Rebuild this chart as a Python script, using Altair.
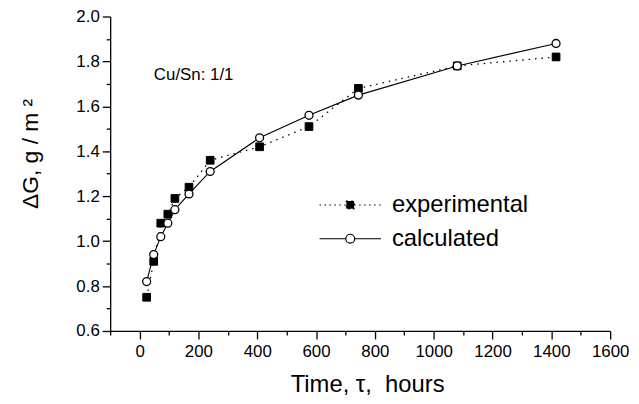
import altair as alt
import pandas as pd

# ---- data ----
hours = [24, 48, 72, 96, 120, 168, 240, 408, 576, 744, 1080, 1416]
experimental = [0.75, 0.91, 1.08, 1.12, 1.19, 1.24, 1.36, 1.42, 1.51, 1.68, 1.78, 1.82]
calculated = [0.82, 0.94, 1.02, 1.08, 1.14, 1.21, 1.31, 1.46, 1.56, 1.65, 1.78, 1.88]
series_names = ["experimental", "calculated"]
x_ticks = list(range(-100, 1601, 100))
y_ticks = [round(0.6 + 0.1 * i, 1) for i in range(15)]
x_title = "Time, \u03c4, \u00a0hours"
y_title = "\u0394G, g / m \u00b2"
note = "Cu/Sn: 1/1"

FONT = "Liberation Sans, Arial, sans-serif"

df = pd.DataFrame({
    "hours": hours + hours,
    "value": experimental + calculated,
    "series": [series_names[0]] * len(hours) + [series_names[1]] * len(hours),
})

x_axis = alt.Axis(
    values=x_ticks, title=x_title, grid=False, labelOverlap=False, labelFlush=False,
    format="d",
    labelExpr="datum.value >= 0 && datum.value % 200 === 0 ? format(datum.value, 'd') : ''",
    tickSize={"condition": {"test": "datum.value % 200 === 0", "value": 8}, "value": 4},
    titleX=259, titleY=61, titleBaseline="alphabetic", titleAnchor="middle",
    titleAlign="center", titleFontSize=24,
)
y_axis = alt.Axis(
    values=y_ticks, title=y_title, grid=False, labelOverlap=False, labelFlush=False,
    labelExpr="round(datum.value*10) % 2 === 0 ? format(datum.value, '.1f') : ''",
    tickSize={"condition": {"test": "round(datum.value*10) % 2 === 0", "value": 8}, "value": 4},
    titleX=-73, titleY=138, titleBaseline="alphabetic", titleAngle=270,
    titleAlign="center", titleFontSize=23,
)

X = alt.X("hours:Q", scale=alt.Scale(domain=[-100, 1600], nice=False, zero=False), axis=x_axis)
Y = alt.Y("value:Q", scale=alt.Scale(domain=[0.6, 2.0], nice=False, zero=False), axis=y_axis)

base = alt.Chart(df)
exp_f = alt.datum.series == series_names[0]
calc_f = alt.datum.series == series_names[1]

exp_line = base.transform_filter(exp_f).mark_line(
    color="black", strokeWidth=1.3, strokeDash=[1.5, 5]).encode(x=X, y=Y)
calc_line = base.transform_filter(calc_f).mark_line(
    color="black", strokeWidth=1.1).encode(x=X, y=Y)

exp_path = "M-1,0H1M-0.126,-0.126H0.126V0.126H-0.126Z"
calc_path = ("M-1,0H-0.145M0.145,0H1M-0.145,0A0.145,0.145,0,1,0,0.145,0"
             "A0.145,0.145,0,1,0,-0.145,0Z")

exp_pts = base.transform_filter(exp_f).mark_point(
    shape="square", filled=True, size=60, stroke="black", strokeWidth=1, opacity=1
).encode(
    x=X, y=Y,
    fill=alt.Fill("series:N", scale=alt.Scale(domain=[series_names[0]], range=["black"]),
                  legend=alt.Legend(title=None, orient="none", legendX=210, legendY=158,
                                    symbolType=exp_path, symbolSize=3844,
                                    symbolStrokeColor="black", symbolStrokeWidth=1.2,
                                    symbolDash=[1.5, 3.5], labelFontSize=24, labelFont=FONT,
                                    labelColor="black", labelOffset=10, padding=0)),
)
calc_pts = base.transform_filter(calc_f).mark_point(
    shape="circle", filled=True, size=64, stroke="black", strokeWidth=1.3, opacity=1
).encode(
    x=X, y=Y,
    fill=alt.Fill("series:N", scale=alt.Scale(domain=[series_names[1]], range=["white"]),
                  legend=alt.Legend(title=None, orient="none", legendX=210, legendY=192,
                                    symbolType=calc_path, symbolSize=3844,
                                    symbolStrokeColor="black", symbolStrokeWidth=1.2,
                                    labelFontSize=24, labelFont=FONT,
                                    labelColor="black", labelOffset=10, padding=0)),
)

note_layer = alt.Chart(pd.DataFrame({"note": [note]})).mark_text(
    align="left", baseline="middle", fontSize=17, font=FONT, color="black"
).encode(text="note:N", x=alt.value(44), y=alt.value(59))

chart = alt.layer(exp_line, calc_line, exp_pts, calc_pts, note_layer).resolve_scale(
    fill="independent"
).properties(
    width=504, height=317,
    autosize=alt.AutoSizeParams(type="none"),
    padding={"left": 103, "top": 7, "right": 21, "bottom": 68},
    background="white",
).configure_view(stroke=None).configure_axis(
    domainColor="black", domainWidth=1.3, tickColor="black", tickWidth=1.3,
    labelColor="black", labelFont=FONT, labelFontSize=17, labelPadding=3,
    titleColor="black", titleFont=FONT, titleFontSize=24, titleFontWeight="normal",
).configure_axisX(labelPadding=5)

chart.save("out.html", embed_options={"renderer": "svg", "actions": False})
